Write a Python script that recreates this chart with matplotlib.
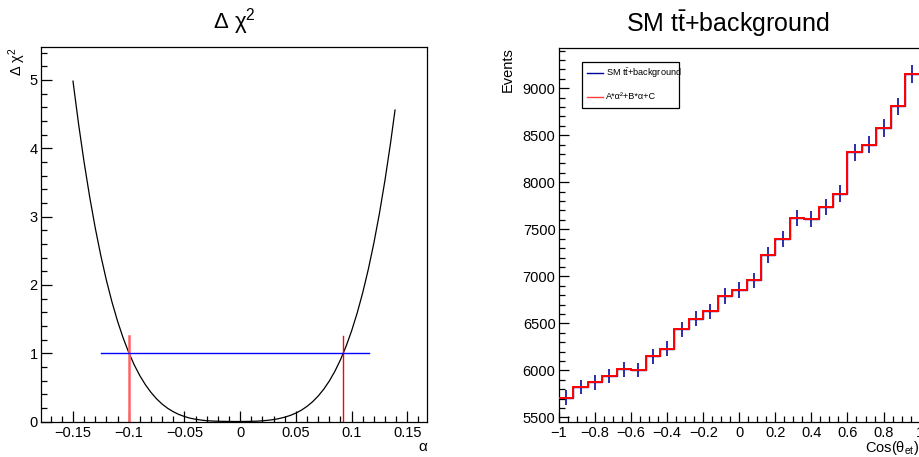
import numpy as np
import matplotlib
matplotlib.use("Agg")
import matplotlib.pyplot as plt
from matplotlib.patches import Rectangle
from matplotlib.lines import Line2D
from matplotlib.ticker import MultipleLocator, FuncFormatter

plt.rcParams["font.family"] = ["Liberation Sans", "DejaVu Sans"]
plt.rcParams["mathtext.fontset"] = "custom"
plt.rcParams["mathtext.rm"] = "Liberation Sans"
plt.rcParams["mathtext.it"] = "Liberation Sans:italic"

# delta chi2 scan over alpha
alpha = [-0.150, -0.145, -0.140, -0.135, -0.130, -0.125, -0.120, -0.115, -0.110,
         -0.105, -0.100, -0.095, -0.090, -0.085, -0.080, -0.075, -0.070, -0.065,
         -0.060, -0.055, -0.050, -0.045, -0.040, -0.035, -0.030, -0.025, -0.020,
         -0.015, -0.010, -0.005, 0.000, 0.005, 0.010, 0.015, 0.020, 0.025, 0.030,
         0.035, 0.040, 0.045, 0.050, 0.055, 0.060, 0.065, 0.070, 0.075, 0.080,
         0.085, 0.090, 0.095, 0.100, 0.105, 0.110, 0.115, 0.120, 0.125, 0.130,
         0.135, 0.139]
dchi2 = [4.983, 4.358, 3.794, 3.287, 2.832, 2.427, 2.067, 1.749, 1.469,
         1.224, 1.012, 0.828, 0.671, 0.538, 0.426, 0.332, 0.255, 0.193,
         0.143, 0.103, 0.073, 0.049, 0.033, 0.021, 0.012, 0.007, 0.004,
         0.002, 0.001, 0.000, 0.000, 0.001, 0.002, 0.005, 0.010, 0.018, 0.028,
         0.043, 0.063, 0.089, 0.123, 0.166, 0.221, 0.289, 0.372, 0.472, 0.592,
         0.734, 0.902, 1.098, 1.325, 1.586, 1.885, 2.226, 2.611, 3.046, 3.534,
         4.079, 4.560]
alpha_low = -0.0997
alpha_high = 0.0926
one_sigma = 1.0
sigma_line = [-0.125, 0.1155]
marker_top = 1.25

# cos(theta) distribution, 25 bins from -1 to 1
n_bins = 25
events = [5712, 5826, 5872, 5939, 6010, 6003, 6148, 6230, 6435, 6549,
          6627, 6793, 6853, 6956, 7229, 7395, 7618, 7611, 7735, 7877,
          8320, 8398, 8575, 8805, 9149]
fit_events = events

W, H = 920, 457


def fx(px):
    return px / W


def fy(py):
    return 1 - py / H


def fmt_tick(v, pos):
    s = "%g" % round(v, 4)
    return s.replace("-", "\u2212")


fig = plt.figure(figsize=(W / 100, H / 100), dpi=100)

# left: delta chi2 vs alpha
ax1 = fig.add_axes([fx(41), fy(421.5), (427 - 41) / W, (421.5 - 47) / H])
ax1.plot(alpha, dchi2, color="black", lw=0.9)
ax1.plot([alpha_low, alpha_low], [0, marker_top], color="#ff6464", lw=1.8)
ax1.plot([alpha_high, alpha_high], [0, marker_top], color="red", lw=1.0)
ax1.plot(sigma_line, [one_sigma, one_sigma], color="blue", lw=1.0)
ax1.set_xlim(-0.1787, 0.1677)
ax1.set_ylim(0, 5.483)
ax1.xaxis.set_major_locator(MultipleLocator(0.05))
ax1.xaxis.set_minor_locator(MultipleLocator(0.01))
ax1.yaxis.set_major_locator(MultipleLocator(1))
ax1.yaxis.set_minor_locator(MultipleLocator(0.2))
ax1.tick_params(which="major", length=8, width=0.9)
ax1.tick_params(which="minor", length=4.3, width=0.9)

# right: cos(theta) histogram with fit
edges = np.linspace(-1, 1, n_bins + 1)
centers = 0.5 * (edges[:-1] + edges[1:])
ax2 = fig.add_axes([fx(559), fy(421.5), (919.6 - 559) / W, (421.5 - 47.5) / H])
ax2.stairs(events, edges, baseline=None, color="#000099", lw=1.0)
ax2.errorbar(centers, events, yerr=np.sqrt(events), fmt="none",
             ecolor="#1c1ca8", elinewidth=1.3, capsize=0)
ax2.stairs(fit_events, edges, baseline=None, color="red", lw=1.4, zorder=3)
ax2.set_xlim(-1, 1)
ax2.set_ylim(5457, 9432)
ax2.xaxis.set_major_locator(MultipleLocator(0.2))
ax2.xaxis.set_minor_locator(MultipleLocator(0.05))
ax2.yaxis.set_major_locator(MultipleLocator(500))
ax2.yaxis.set_minor_locator(MultipleLocator(100))
ax2.tick_params(which="major", length=7.2, width=0.9)
ax2.tick_params(which="minor", length=4.0, width=0.9)

for ax in (ax1, ax2):
    ax.tick_params(which="both", direction="in", top=False, right=False,
                   labelsize=10.5)
    ax.tick_params(axis="x", pad=3.5)
    ax.tick_params(axis="y", pad=2.5)
    ax.xaxis.set_major_formatter(FuncFormatter(fmt_tick))
    ax.yaxis.set_major_formatter(FuncFormatter(fmt_tick))
    for sp in ax.spines.values():
        sp.set_linewidth(0.9)

# titles and axis labels
fig.text(fx(234), fy(28.5), r"Δ χ$^{\mathregular{2}}$", fontsize=16,
         ha="center", va="baseline")
fig.text(fx(728), fy(31.7), r"SM t$\bar{\mathregular{t}}$+background",
         fontsize=18, ha="center", va="baseline")
fig.text(fx(16.7), fy(47.5), r"Δ χ$^{\mathregular{2}}$", rotation=90,
         ha="center", va="top", fontsize=10.5)
fig.text(fx(508), fy(47), "Events", rotation=90, ha="center", va="top",
         fontsize=10.5)
fig.text(fx(427), fy(447), "α", ha="right", va="center", fontsize=11)
fig.text(fx(919), fy(448), r"Cos($\mathregular{θ_{et}}$)", ha="right",
         va="center", fontsize=10.5)

# legend box
fig.add_artist(Rectangle((fx(582.5), fy(108)), (679 - 582.5) / W, (108 - 62) / H,
                         transform=fig.transFigure, facecolor="white",
                         edgecolor="black", lw=0.9))
legend_items = [
    (r"SM t$\bar{\mathregular{t}}$+background", "#000099", 73.3),
    ("A*α²+B*α+C", "#ff4040", 96.7),
]
for label, color, ypx in legend_items:
    fig.add_artist(Line2D([fx(587), fx(603)], [fy(ypx), fy(ypx)], color=color,
                          lw=1.0, transform=fig.transFigure))
    fig.text(fx(606), fy(ypx), label, fontsize=6.6, ha="left", va="center")

fig.savefig("out.png", dpi=100)
